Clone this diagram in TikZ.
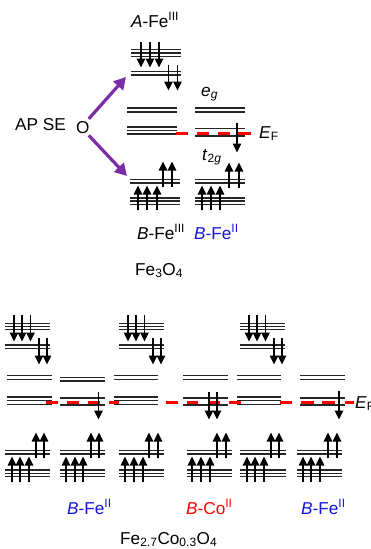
\documentclass[tikz,border=0pt]{standalone}
\usepackage{fontspec}
\setmainfont{Liberation Sans}
\usetikzlibrary{arrows.meta}
\definecolor{apurple}{HTML}{7A2DA8}
\definecolor{ablue}{HTML}{1414E0}
\definecolor{ared}{HTML}{FF0000}
\newcommand{\lvls}[3]{\foreach \yy in {#3} \draw[level] (#1,\yy) -- (#2,\yy);}
\newcommand{\spin}[3]{\foreach \xx in {#1} \draw[spinarrow] (\xx,#2) -- (\xx,#3);}
\newcommand{\fermi}[2]{\foreach \aa/\bb in {#2} \draw[fermidash] (\aa,#1) -- (\bb,#1);}
\newcommand{\sups}[1]{\textsuperscript{#1}}
\tikzset{
  level/.style={line width=1.5pt,black!85},
  spinarrow/.style={line width=1.5pt,black,-{Triangle[length=9pt,width=8.5pt]},shorten >=-0.5pt},
  fermidash/.style={line width=3pt,ared},
  bondarrow/.style={line width=3.2pt,apurple,-{Triangle[length=12pt,width=13pt]}},
  lab/.style={inner sep=0pt,anchor=base west,font=\fontsize{17.2}{19}\selectfont},
  labblue/.style={lab,text=ablue},
  labred/.style={lab,text=ared},
}
\begin{document}
\begin{tikzpicture}[x=1pt,y=-1pt]
\useasboundingbox (0,0) rectangle (370,549);
\clip (0,0) rectangle (370,549);
% labels top
\node[lab] (afe) at (131,27) {\textit{A}-Fe\sups{III}};
\node[lab] (apse) at (15,130.5) {AP SE};
\node[lab] (oion) at (76,133) {O};
\coordinate (upTip) at (126,77);
\coordinate (dnTip) at (127,176);
\draw[bondarrow] (oion.north east) ++(-1,-2) -- (upTip);
\draw[bondarrow] (oion.south east) ++(-1,2) -- (dnTip);
\node[lab] (eg) at (201,96) {\textit{e}\textsubscript{\textit{g}}};
\node[lab] (tg) at (202,160) {\textit{t}\textsubscript{2\textit{g}}};
\node[lab] (ef1) at (259,138) {\textit{E}\textsubscript{F}};
\node[lab] (bfe3) at (137,239) {\textit{B}-Fe\sups{III}};
\node[labblue] (bfe2) at (194,239) {\textit{B}-Fe\sups{II}};
\node[lab] (fe3o4) at (135,275) {Fe\textsubscript{3}O\textsubscript{4}};
% top levels
\lvls{131}{181}{49.7,53,56.5}
\lvls{131}{181}{71.5,75}
\spin{141,150,159}{42}{67}
\spin{168.5,177.5}{65}{90}
\lvls{127}{177}{108,112}
\lvls{127}{177}{127,130.5,134}
\fermi{133.5}{176/188}
\lvls{195}{245}{108,112}
\lvls{195}{245}{128.5,136}
\fermi{133.3}{197/209,218/230,238/251}
\spin{237}{123}{152}
% top t2g
\lvls{130}{180}{179.5,183}
\lvls{130}{180}{198,201,204.5}
\spin{138,147,157}{210}{186}
\spin{163,172}{187}{162}
\lvls{195}{245}{179.5,183}
\lvls{195}{245}{198,201,204.5}
\spin{202,211,220}{210}{186}
\spin{229,239}{188}{163}
% bottom spin-down sets
\foreach \dx in {0,114,235}{
  \lvls{5+\dx}{50+\dx}{323.3,326.5,329.7}
  \lvls{5+\dx}{50+\dx}{345,348.7}
  \spin{14+\dx,22+\dx,30.5+\dx}{315}{341}
  \spin{39+\dx,47+\dx}{338}{364}
}
% bottom eg / t2g levels
\foreach \a/\b in {7/52,114/158,183/228,237/281,300/345}{
  \lvls{\a}{\b}{375.7,379.3}
}
\lvls{60}{105}{377.3,381}
\lvls{7}{52}{397,400.7,404.3}
\lvls{114}{158}{397,400.7,404.3}
\lvls{237}{281}{397,400.7,404.3}
\lvls{60}{105}{398,405}
\lvls{183}{228}{398,405}
\lvls{300}{345}{398,405}
\fermi{402.5}{46/58,67/79,88/100,109/119,166/178,187/198,208/220,229/241,280/292,301/314,322/335,345/354}
\spin{98.5}{392}{419}
\spin{209,217}{392}{419}
\spin{339}{391}{419}
\node[lab] (ef2) at (355,408) {\textit{E}\textsubscript{F}};
% bottom up-spin sets
\foreach \a/\b/\ua/\ub/\la/\lb/\lc in {5/50/36/44/12/20/29,60/105/91/99/66/75/83,119/164/149/158/125/134/143,187/232/217/226/192/201/210,240/286/271/279/247/255/264,297/342/328/337/303/311/320}{
  \lvls{\a}{\b}{450.7,454}
  \lvls{\a}{\b}{470,473.3,476.7}
  \spin{\ua,\ub}{458}{433}
  \spin{\la,\lb,\lc}{482}{457}
}
\node[labblue] (bfe21) at (67,514) {\textit{B}-Fe\sups{II}};
\node[labred] (bco) at (186,514) {\textit{B}-Co\sups{II}};
\node[labblue] (bfe22) at (301,514) {\textit{B}-Fe\sups{II}};
\node[lab] (feco) at (120,544) {Fe\textsubscript{2.7}Co\textsubscript{0.3}O\textsubscript{4}};
\end{tikzpicture}
\end{document}
